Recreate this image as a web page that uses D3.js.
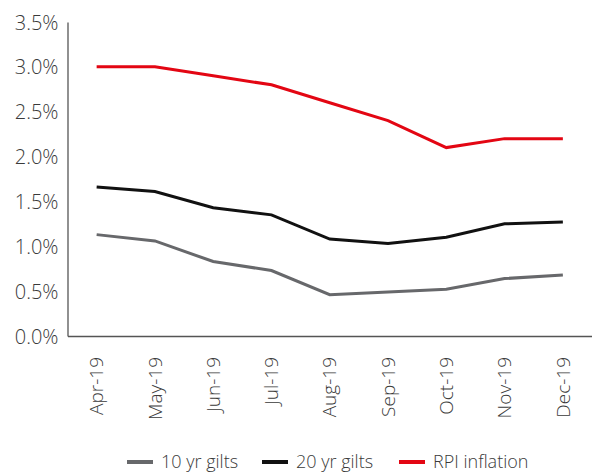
<!DOCTYPE html>
<html>
<head>
<meta charset="utf-8">
<script src="https://cdnjs.cloudflare.com/ajax/libs/d3/7.8.5/d3.min.js"></script>
<style>
  body { margin: 0; background: #fff; }
  svg { display: block; }
  .lbl { fill: #3a3a3a; font-weight: 300; font-family: "Source Sans Pro", "Open Sans", "Noto Sans", sans-serif; }
</style>
</head>
<body>
<svg id="chart" width="592" height="473"></svg>
<script>
  var months = ["Apr-19","May-19","Jun-19","Jul-19","Aug-19","Sep-19","Oct-19","Nov-19","Dec-19"];
  var gilts10 = [1.13, 1.06, 0.83, 0.73, 0.46, 0.49, 0.52, 0.64, 0.68];
  var gilts20 = [1.66, 1.61, 1.43, 1.35, 1.08, 1.03, 1.10, 1.25, 1.27];
  var rpi = [3.0, 3.0, 2.9, 2.8, 2.6, 2.4, 2.1, 2.2, 2.2];
  var yTicks = [0, 0.5, 1.0, 1.5, 2.0, 2.5, 3.0, 3.5];
  var seriesNames = ["10 yr gilts", "20 yr gilts", "RPI inflation"];
  var seriesColors = ["#67686b", "#111111", "#e30613"];

  var svg = d3.select("#chart");
  var m = { left: 67.5, right: 592, top: 22, bottom: 336 };

  var x = d3.scaleBand().domain(months).range([m.left, m.right]);
  var y = d3.scaleLinear().domain([0, 3.5]).range([m.bottom, m.top]);

  // y axis
  var yAxis = svg.append("g")
      .attr("transform", "translate(" + m.left + ",0)")
      .call(d3.axisLeft(y).tickValues(yTicks).tickSize(0).tickPadding(8)
            .tickFormat(function(d){ return d.toFixed(1) + "%"; }));
  yAxis.attr("font-family", null);
  yAxis.select(".domain").attr("stroke", "#555").attr("stroke-width", 1.3);
  yAxis.selectAll("text").attr("class", "lbl").style("font-size", "20px")
      .attr("x", -9).attr("dy", "0.35em");

  // x axis
  var xAxis = svg.append("g")
      .attr("transform", "translate(0," + m.bottom + ")")
      .call(d3.axisBottom(x).tickSize(0).tickPadding(0));
  xAxis.attr("font-family", null);
  xAxis.select(".domain").attr("stroke", "#555").attr("stroke-width", 1.3);
  xAxis.selectAll("text").attr("class", "lbl").style("font-size", "19px")
      .attr("transform", "rotate(-90)")
      .attr("text-anchor", "end")
      .attr("x", -21).attr("y", 0).attr("dy", "0.35em");

  var line = d3.line()
      .x(function(d, i){ return x(months[i]) + x.bandwidth() / 2; })
      .y(function(d){ return y(d); });

  [gilts10, gilts20, rpi].forEach(function(s, k){
    svg.append("path")
      .datum(s)
      .attr("fill", "none")
      .attr("stroke", seriesColors[k])
      .attr("stroke-width", 3)
      .attr("d", line);
  });

  // legend
  var legX = [127, 262, 399];
  var leg = svg.append("g").selectAll("g").data(seriesNames).enter().append("g")
      .attr("transform", function(d, i){ return "translate(" + legX[i] + ",462)"; });
  leg.append("line").attr("x1", 0).attr("x2", 26).attr("y1", 0).attr("y2", 0)
      .attr("stroke", function(d, i){ return seriesColors[i]; }).attr("stroke-width", 4);
  leg.append("text").attr("class", "lbl").attr("x", 34).attr("dy", "0.35em")
      .style("font-size", "18px").text(function(d){ return d; });
</script>
</body>
</html>
